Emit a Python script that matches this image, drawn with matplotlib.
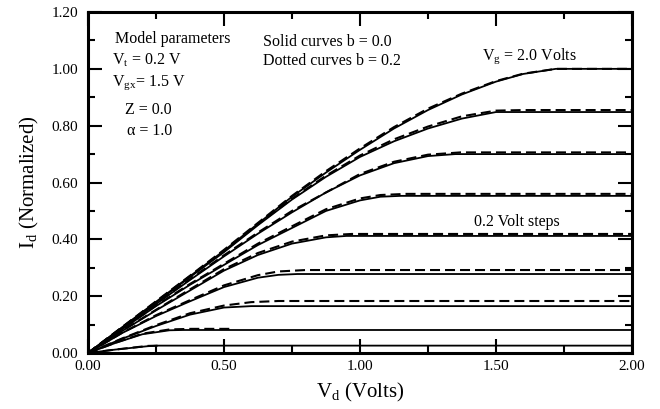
import numpy as np
import matplotlib.pyplot as plt
from matplotlib.ticker import MultipleLocator, FormatStrFormatter

plt.rcParams['font.family'] = ['Liberation Serif', 'DejaVu Serif']
plt.rcParams['mathtext.fontset'] = 'custom'
plt.rcParams['mathtext.rm'] = 'Liberation Serif'

# gate voltages, 0.2 V steps
vg = [2.0, 1.8, 1.6, 1.4, 1.2, 1.0, 0.8, 0.6, 0.4]

# solid curves, b = 0.0
vd_solid = [
    [0, 0.125, 0.25, 0.375, 0.5, 0.625, 0.75, 0.875, 1.0, 1.125, 1.25, 1.375, 1.5, 1.6, 1.72, 2.0],
    [0, 0.125, 0.25, 0.375, 0.5, 0.625, 0.75, 0.875, 1.0, 1.125, 1.25, 1.375, 1.5, 2.0],
    [0, 0.125, 0.25, 0.375, 0.5, 0.625, 0.75, 0.875, 1.0, 1.125, 1.25, 1.35, 2.0],
    [0, 0.125, 0.25, 0.375, 0.5, 0.625, 0.75, 0.875, 1.0, 1.075, 1.15, 2.0],
    [0, 0.125, 0.25, 0.375, 0.5, 0.625, 0.75, 0.875, 0.95, 2.0],
    [0, 0.125, 0.25, 0.375, 0.5, 0.625, 0.7, 0.77, 2.0],
    [0, 0.125, 0.25, 0.375, 0.5, 0.6, 2.0],
    [0, 0.1, 0.2, 0.3, 0.35, 2.0],
    [0, 0.1, 0.22, 0.26, 2.0],
]
id_solid = [
    [0, 0.09, 0.18, 0.27, 0.36, 0.455, 0.55, 0.635, 0.715, 0.79, 0.855, 0.91, 0.955, 0.982, 1.0, 1.0],
    [0, 0.089, 0.178, 0.267, 0.355, 0.45, 0.54, 0.62, 0.69, 0.745, 0.79, 0.825, 0.848, 0.848],
    [0, 0.086, 0.172, 0.257, 0.34, 0.42, 0.495, 0.565, 0.625, 0.668, 0.693, 0.70, 0.70],
    [0, 0.083, 0.165, 0.24, 0.31, 0.38, 0.44, 0.50, 0.537, 0.55, 0.553, 0.553],
    [0, 0.077, 0.15, 0.22, 0.29, 0.345, 0.385, 0.407, 0.412, 0.412],
    [0, 0.07, 0.13, 0.182, 0.232, 0.265, 0.275, 0.278, 0.278],
    [0, 0.05, 0.095, 0.135, 0.16, 0.165, 0.165],
    [0, 0.035, 0.066, 0.08, 0.081, 0.081],
    [0, 0.012, 0.024, 0.026, 0.026],
]

# dotted (dashed) curves, b = 0.2
vd_dash = [
    [0, 0.125, 0.25, 0.375, 0.5, 0.625, 0.75, 0.875, 1.0, 1.125, 1.25, 1.375, 1.5, 1.6, 1.72, 2.0],
    [0, 0.125, 0.25, 0.375, 0.5, 0.625, 0.75, 0.875, 1.0, 1.125, 1.25, 1.375, 1.5, 1.6, 2.0],
    [0, 0.125, 0.25, 0.375, 0.5, 0.625, 0.75, 0.875, 1.0, 1.125, 1.25, 1.37, 2.0],
    [0, 0.125, 0.25, 0.375, 0.5, 0.625, 0.75, 0.875, 1.0, 1.075, 1.17, 2.0],
    [0, 0.125, 0.25, 0.375, 0.5, 0.625, 0.75, 0.875, 0.97, 2.0],
    [0, 0.125, 0.25, 0.375, 0.5, 0.625, 0.7, 0.8, 2.0],
    [0, 0.125, 0.25, 0.375, 0.5, 0.6, 0.7, 2.0],
    [0, 0.1, 0.2, 0.3, 0.38, 0.53],
    [0, 0.1, 0.22, 0.26],
]
id_dash = [
    [0, 0.091, 0.182, 0.272, 0.363, 0.458, 0.553, 0.64, 0.72, 0.795, 0.86, 0.913, 0.957, 0.983, 1.0, 1.0],
    [0, 0.09, 0.18, 0.27, 0.358, 0.453, 0.543, 0.624, 0.695, 0.752, 0.797, 0.833, 0.853, 0.855, 0.855],
    [0, 0.087, 0.174, 0.26, 0.344, 0.424, 0.50, 0.565, 0.63, 0.673, 0.698, 0.706, 0.706],
    [0, 0.084, 0.167, 0.243, 0.314, 0.385, 0.446, 0.506, 0.544, 0.556, 0.56, 0.56],
    [0, 0.078, 0.152, 0.224, 0.295, 0.352, 0.392, 0.414, 0.419, 0.419],
    [0, 0.071, 0.133, 0.186, 0.238, 0.274, 0.287, 0.292, 0.292],
    [0, 0.051, 0.098, 0.14, 0.167, 0.179, 0.183, 0.183],
    [0, 0.036, 0.068, 0.083, 0.085, 0.085],
    [0, 0.012, 0.025, 0.026],
]

fig = plt.figure(figsize=(6.6, 4.09), dpi=100)
ax = fig.add_axes([0.1333, 0.1369, 0.8242, 0.8337])

for x, y in zip(vd_solid, id_solid):
    ax.plot(x, y, color='black', lw=1.3, solid_capstyle='butt')
for x, y in zip(vd_dash, id_dash):
    ax.plot(x, y, color='black', lw=1.5, linestyle=(0, (4.8, 2.4)))

ax.set_xlim(0, 2.0)
ax.set_ylim(0, 1.2)
ax.xaxis.set_major_locator(MultipleLocator(0.5))
ax.xaxis.set_minor_locator(MultipleLocator(0.25))
ax.yaxis.set_major_locator(MultipleLocator(0.2))
ax.yaxis.set_minor_locator(MultipleLocator(0.1))
ax.xaxis.set_major_formatter(FormatStrFormatter('%.2f'))
ax.yaxis.set_major_formatter(FormatStrFormatter('%.2f'))
ax.tick_params(which='both', direction='in', top=True, right=True, width=1.5, labelsize=11)
ax.tick_params(which='major', length=10)
ax.tick_params(which='minor', length=5)
ax.tick_params(axis='x', pad=5)
ax.tick_params(axis='y', pad=7)
for s in ax.spines.values():
    s.set_linewidth(2.2)

ax.set_xlabel(r'$\mathregular{V_d}$ (Volts)', fontsize=15, labelpad=6)
ax.set_ylabel(r'$\mathregular{I_d}$ (Normalized)', fontsize=15, labelpad=8)

fs = 11.5
ax.text(0.10, 1.105, 'Model parameters', fontsize=fs, va='center')
ax.text(0.09, 1.03, r'$\mathregular{V_t}$ = 0.2 V', fontsize=fs, va='center')
ax.text(0.09, 0.95, r'$\mathregular{V_{gx}}$= 1.5 V', fontsize=fs, va='center')
ax.text(0.135, 0.855, 'Z = 0.0', fontsize=fs, va='center')
ax.text(0.145, 0.78, 'α = 1.0', fontsize=fs, va='center')
ax.text(0.645, 1.095, 'Solid curves b = 0.0', fontsize=fs, va='center')
ax.text(0.645, 1.028, 'Dotted curves b = 0.2', fontsize=fs, va='center')
ax.text(1.45, 1.045, r'$\mathregular{V_g}$ = 2.0 Volts', fontsize=fs, va='center')
ax.text(1.42, 0.46, '0.2 Volt steps', fontsize=fs, va='center')

fig.savefig('out.png', dpi=100)
